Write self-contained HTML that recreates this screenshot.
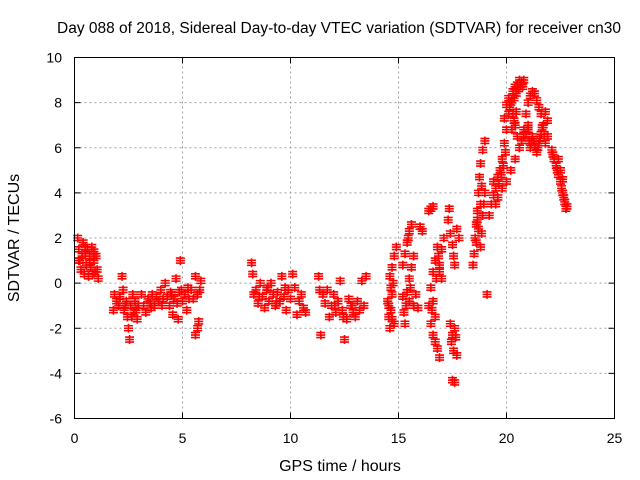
<!DOCTYPE html>
<html><head><meta charset="utf-8"><style>
body{margin:0;background:#fff}
svg{display:block;font-family:"Liberation Sans",sans-serif}
</style></head><body>
<svg id="chart" width="640" height="480">
<text x="339" y="33" font-size="15.5" text-anchor="middle">Day 088 of 2018, Sidereal Day-to-day VTEC variation (SDTVAR) for receiver cn30</text>
<text x="340" y="471" font-size="16" text-anchor="middle">GPS time / hours</text>
<text transform="translate(19,238) rotate(-90)" font-size="16" text-anchor="middle">SDTVAR / TECUs</text>
<g id="grid"></g><g id="ticks"></g><g id="marks"></g>
<rect x="74.5" y="57.5" width="540" height="361" fill="none" stroke="#000"/>
</svg>
<script>
const xTicks=[0,5,10,15,20,25];
const yTicks=[-6,-4,-2,0,2,4,6,8,10];
const times=[0.15,0.2,0.25,0.3,0.35,0.4,0.5,0.55,0.6,0.7,0.75,0.8,0.9,0.95,1.0,1.05,1.1,0.45,0.65,0.85,0.2,0.5,0.7,0.9,
1.8,1.85,1.95,2.05,2.1,2.2,2.25,2.3,2.4,2.45,2.5,2.55,2.6,2.7,2.75,2.8,2.9,2.95,2.35,2.65,2.85,
3.1,3.2,3.3,3.4,3.5,3.6,3.7,3.8,3.9,4.0,4.1,4.2,4.3,4.4,4.5,4.55,4.6,4.7,4.75,4.8,4.85,4.9,4.95,5.0,5.1,5.2,5.3,5.4,5.5,5.6,5.7,5.8,5.85,5.6,5.7,5.75,3.55,4.05,4.45,5.25,
8.2,8.25,8.3,8.4,8.5,8.6,8.7,8.8,8.9,9.0,9.1,9.2,9.3,9.4,9.5,9.6,9.7,9.8,9.9,10.0,10.1,10.2,10.3,10.4,10.5,10.6,10.7,8.55,8.95,9.35,9.75,
11.3,11.35,11.4,11.5,11.6,11.7,11.8,11.9,12.0,12.1,12.2,12.3,12.4,12.5,12.6,12.7,12.8,12.9,13.0,13.1,13.2,13.3,13.4,13.5,12.05,12.45,12.85,
14.5,14.55,14.6,14.65,14.7,14.75,14.6,14.7,14.8,14.9,14.8,14.7,14.55,14.65,
15.2,15.3,15.4,15.5,15.6,15.3,15.35,15.4,15.5,15.6,15.7,15.8,15.7,15.5,15.9,15.2,15.25,16.0,16.1,15.45,15.55,
16.4,16.5,16.6,16.7,16.8,16.9,16.7,16.6,16.5,16.6,16.7,16.8,16.9,17.0,17.1,16.5,16.6,16.4,16.9,17.0,16.55,16.75,16.85,
17.3,17.35,17.4,17.5,17.55,17.6,17.7,17.8,17.4,17.5,17.55,17.6,17.7,17.5,17.6,17.45,17.65,
18.45,18.5,18.55,18.6,18.65,18.7,18.8,18.85,18.9,18.95,19.0,18.8,18.6,19.1,18.7,18.75,18.8,18.9,19.0,18.65,18.85,
19.2,19.3,19.4,19.5,19.6,19.7,19.8,19.9,20.0,20.1,19.4,19.6,19.8,20.0,20.2,20.4,20.6,20.8,21.0,19.5,19.9,20.0,20.1,20.2,20.3,20.4,20.5,20.6,20.7,20.8,20.3,20.4,20.5,20.6,20.7,20.8,20.9,21.0,21.1,21.2,21.3,21.4,21.5,21.6,21.7,21.2,21.3,21.4,21.5,21.6,21.8,21.9,21.8,21.1,21.0,21.9,
20.15,20.25,20.35,20.45,20.55,20.65,20.75,20.25,20.35,20.45,20.9,21.05,21.15,21.25,21.35,21.45,21.55,21.65,21.75,19.65,19.75,19.85,19.95,
22.1,22.2,22.3,22.4,22.5,22.6,22.7,22.75,22.8,22.5,22.4,22.6,22.15,22.35,22.55,22.65];
const values=[2.0,1.5,1.0,0.6,1.2,1.8,1.3,0.8,1.5,1.2,0.7,1.6,1.0,0.5,1.2,0.6,0.2,0.4,0.3,0.4,1.0,1.6,0.9,1.4,
-1.2,-0.5,-0.8,-1.0,-0.6,0.3,-0.3,-1.2,-0.8,-1.5,-2.0,-2.5,-1.0,-0.5,-1.3,-0.8,-1.6,-1.0,-1.0,-1.5,-1.2,
-0.5,-1.0,-1.3,-0.7,-0.9,-0.5,-1.0,-0.6,-0.8,-0.3,-0.7,0.0,-0.6,-1.0,-0.5,-1.4,-0.7,0.2,-0.9,-1.6,-0.4,1.0,-0.3,-0.8,-0.5,-1.2,-0.7,-0.3,-0.7,0.3,-0.5,-0.3,0.1,-2.3,-2.0,-1.7,-1.1,-1.0,-0.4,-0.2,
0.9,0.4,-0.5,-0.3,-0.9,0.0,-0.6,-1.1,-0.3,-0.8,0.0,-0.5,-1.0,-0.4,-0.8,0.3,-0.6,-1.2,-0.3,-0.7,0.4,-0.2,-1.4,-0.8,-0.5,-1.1,-1.3,-0.6,-0.2,-0.9,-0.2,
0.3,-0.3,-2.3,-0.5,-0.9,-0.3,-1.5,-1.0,-0.5,-1.3,-0.8,0.1,-1.2,-2.5,-1.6,-0.7,-1.0,-1.3,-1.5,-0.8,-1.2,0.1,-1.0,0.3,-1.0,-1.5,-1.0,
-0.8,-1.5,-2.0,-1.2,-0.5,0.0,0.3,0.7,1.2,1.6,-1.8,-1.6,-1.0,-0.2,
0.8,1.3,1.8,2.3,2.6,-1.8,-1.0,-0.4,0.2,0.7,1.2,-0.5,-1.0,-0.8,-1.1,-0.6,-1.3,2.5,2.3,2.0,-0.2,
-1.0,-1.8,-2.3,-2.6,-2.9,-3.3,-1.5,-0.8,-0.2,0.5,1.0,1.6,0.8,1.5,2.0,3.3,3.4,3.2,0.5,0.2,-1.2,0.2,1.2,
2.8,3.3,2.2,1.7,1.2,0.8,2.4,2.0,-1.8,-2.3,-3.0,-2.0,-3.2,-4.3,-4.4,-2.6,-2.4,
0.8,1.3,2.0,2.6,3.2,2.4,1.6,2.2,3.0,3.5,4.0,3.5,1.8,-0.5,4.0,4.7,5.3,5.9,6.3,2.8,4.3,
3.0,3.5,3.9,4.2,4.7,5.0,5.5,6.2,6.8,7.5,4.5,3.8,4.2,4.5,5.0,5.5,6.0,6.5,7.0,3.5,7.3,7.9,8.2,8.0,8.5,8.7,8.8,9.0,8.9,9.0,7.5,7.0,6.5,6.0,6.3,6.8,7.5,8.0,8.3,8.5,8.4,8.1,7.8,7.5,7.0,6.5,6.1,5.8,6.2,6.6,6.2,7.2,7.6,6.0,6.8,6.5,
7.8,8.1,8.2,8.4,8.6,8.8,8.7,6.8,7.2,7.6,6.6,6.3,6.2,6.3,6.0,6.0,6.4,6.9,6.6,4.4,4.8,5.2,5.8,
5.9,5.5,5.2,4.8,4.5,4.0,3.6,3.3,3.4,5.0,5.5,4.6,5.7,5.0,4.2,3.8];
const NS='http://www.w3.org/2000/svg';
const X0=74.5,X1=614.5,Y0=418.5,Y1=57.5;
function sx(t){return X0+(t-0)/25*(X1-X0);}
function sy(v){return Y0-(v+6)/16*(Y0-Y1);}
function mk(tag,attrs,parent){const e=document.createElementNS(NS,tag);for(const k in attrs)e.setAttribute(k,attrs[k]);parent.appendChild(e);return e;}
const grid=document.getElementById('grid'),ticks=document.getElementById('ticks'),marks=document.getElementById('marks');
xTicks.forEach(t=>{const x=sx(t);
 if(t>0&&t<25){const g=mk('line',{x1:x,x2:x,y1:Y0,y2:Y1,stroke:'#a0a0a0','stroke-dasharray':'2,3'},grid);
 
 }
 mk('line',{x1:x,x2:x,y1:Y0,y2:Y0-6,stroke:'#000'},ticks);
 mk('line',{x1:x,x2:x,y1:Y1,y2:Y1+6,stroke:'#000'},ticks);
 const l=mk('text',{x:x,y:443,'font-size':14,'text-anchor':'middle'},ticks);l.textContent=t;
 
 });
yTicks.forEach(v=>{const y=sy(v);
 if(v>-6&&v<10){const g=mk('line',{x1:X0,x2:X1,y1:y,y2:y,stroke:'#a0a0a0','stroke-dasharray':'2,3'},grid);
 
 }
 mk('line',{x1:X0,x2:X0+6,y1:y,y2:y,stroke:'#000'},ticks);
 mk('line',{x1:X1,x2:X1-6,y1:y,y2:y,stroke:'#000'},ticks);
 const l=mk('text',{x:62,y:y+5,'font-size':14,'text-anchor':'end'},ticks);l.textContent=v;
 
 });
times.forEach((t,i)=>{const x=sx(t),y=sy(values[i]);
 const p=mk('path',{d:`M${x-4.5},${y}H${x+4.5}M${x},${y-4.5}V${y+4.5}M${x-4.5},${y+2.5}H${x+4.5}M${x-4.5},${y-2.5}H${x+4.5}`,stroke:'#ff0000','stroke-width':1.6,fill:'none'},marks);
 
 });
</script>
</body></html>
